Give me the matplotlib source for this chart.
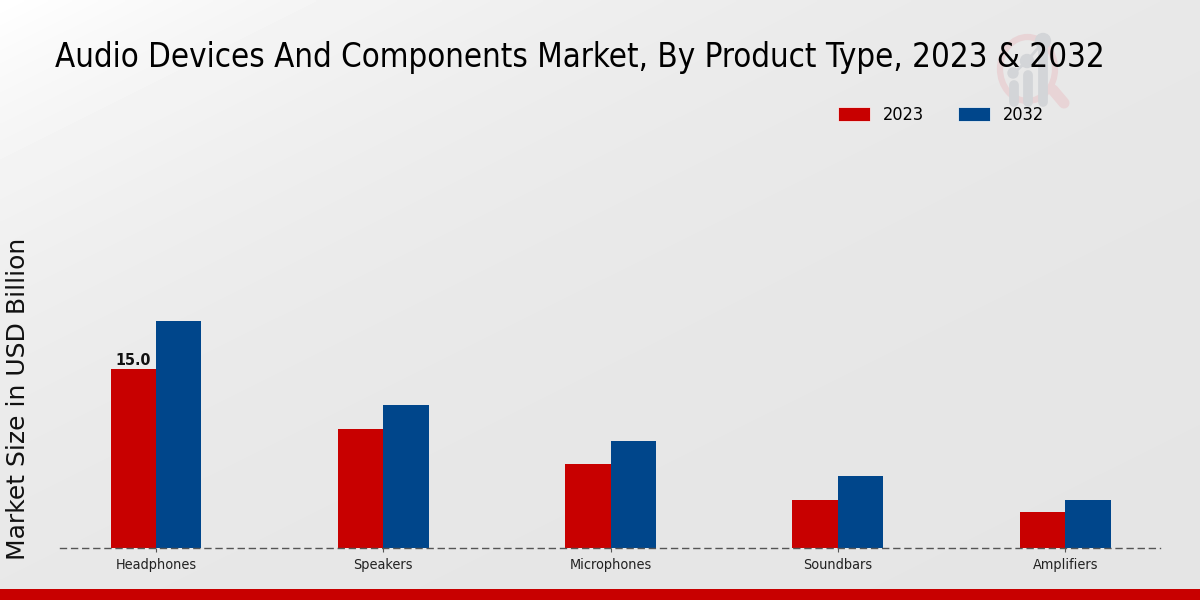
import numpy as np
import matplotlib
matplotlib.use("Agg")
import matplotlib.pyplot as plt
from matplotlib import font_manager as fm
from matplotlib.patches import Circle, Ellipse, Rectangle, Patch
from matplotlib.lines import Line2D

categories = ["Headphones", "Speakers", "Microphones", "Soundbars", "Amplifiers"]
values_2023 = [15.0, 10.0, 7.0, 4.0, 3.0]
values_2032 = [19.0, 12.0, 9.0, 6.0, 4.0]
series_labels = ["2023", "2032"]
title_text = "Audio Devices And Components Market, By Product Type, 2023 & 2032"
ylabel_text = "Market Size in USD Billion"
RED = "#c80000"
BLUE = "#00468b"

cond_kw = dict(family="DejaVu Sans", stretch="condensed")

W, H = 1200, 600
fig = plt.figure(figsize=(12, 6), dpi=100)


def fx(px):
    return px / W


def fy(py):
    return 1 - py / H


# background gradient
bg = fig.add_axes([0, 0, 1, 1], zorder=0)
bg.set_axis_off()
gx, gy = np.meshgrid(np.linspace(0, W, 400), np.linspace(0, H, 200))
shade = 1 - 0.105 * (1 - np.exp(-(gx + 2 * gy) / 600))
bg.imshow(shade, cmap="gray", vmin=0, vmax=1, extent=[0, W, H, 0], aspect="auto", interpolation="bilinear")
bg.set_xlim(0, W)
bg.set_ylim(H, 0)

# watermark logo
RING = "#e8d4d6"
GREY = "#d3d5d8"
bg.add_patch(Ellipse((1027.5, 69), 55, 64, fill=False, ec=RING, lw=4.5))
bg.add_line(Line2D([1053, 1064], [90, 103], color=RING, lw=8, solid_capstyle="round"))
for x0, top in [(1014, 85), (1028, 75), (1043, 48)]:
    bg.add_line(Line2D([x0, x0], [top, 102], color=GREY, lw=7, solid_capstyle="round"))
bg.add_line(Line2D([1014, 1027, 1043], [73, 61, 42], color=GREY, lw=2))
bg.add_patch(Circle((1027, 61), 6.5, color=GREY))
bg.add_patch(Circle((1013, 73), 5, color=GREY))
bg.add_patch(Circle((1043, 41), 7.5, color=GREY))

# bottom band
bg.add_patch(Rectangle((0, 589), W, 11, color=RED, lw=0))

ax = fig.add_axes([fx(60), fy(548), fx(1100), fy(130) - fy(548)], zorder=1)
ax.patch.set_alpha(0)
x = np.arange(len(categories))
width = 0.2
bars1 = ax.bar(x - width / 2, values_2023, width, color=RED, edgecolor="none", zorder=2)
bars2 = ax.bar(x + width / 2, values_2032, width, color=BLUE, edgecolor="none", zorder=2)
ax.set_xlim(-0.4223, 4.4172)
ax.set_ylim(0, 418 / 11.93)
ax.set_xticks(x, categories, fontsize=10.4, color="#222222", va="center", **cond_kw)
ax.set_yticks([])
ax.tick_params(axis="x", length=3, width=0.8, color="#555555", pad=9.2)
for s in ["top", "left", "right"]:
    ax.spines[s].set_visible(False)
ax.spines["bottom"].set_linestyle((0, (4.3, 3.7)))
ax.spines["bottom"].set_color("#555555")
ax.spines["bottom"].set_linewidth(1.0)
ax.spines["bottom"].set_zorder(3)

ax.bar_label(bars1, labels=[f"{values_2023[0]:.1f}"] + [""] * 4, fontsize=11.5, fontweight="bold",
             padding=1, color="#111111", **cond_kw)

fig.text(fx(55), fy(58), title_text, fontsize=23.7, va="center", ha="left", color="black", zorder=5, **cond_kw)
fig.text(fx(18), fy(399), ylabel_text, fontsize=18, rotation=90, va="center", ha="center",
         color="#111111", family="DejaVu Sans", zorder=5)

handles = [Patch(facecolor=RED, edgecolor="white", lw=0.5), Patch(facecolor=BLUE, edgecolor="white", lw=0.5)]
leg = fig.legend(handles, series_labels, loc="center left", bbox_to_anchor=(fx(838), fy(115)), ncol=2, frameon=False,
                 borderpad=0, borderaxespad=0,
                 handlelength=1.77, handleheight=0.85, handletextpad=0.72, columnspacing=1.9,
                 prop=fm.FontProperties(family="DejaVu Sans", stretch="condensed", size=13))
leg.set_zorder(5)

fig.savefig("out.png", dpi=100)
